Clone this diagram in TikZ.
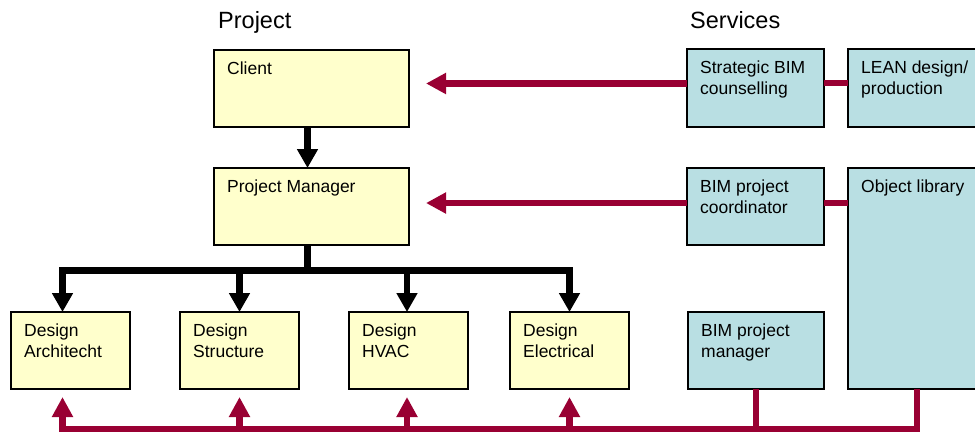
\documentclass[tikz,border=0pt]{standalone}
\usepackage{fontspec}
\setmainfont{Liberation Sans}
\usetikzlibrary{arrows.meta}
\definecolor{boxyellow}{RGB}{255,255,204}
\definecolor{boxblue}{RGB}{185,223,227}
\definecolor{linered}{RGB}{153,0,51}
\begin{document}
\begin{tikzpicture}[x=1pt,y=-1pt,
 box/.style={draw=black, line width=2pt, inner sep=0pt, outer sep=0pt, anchor=north west},
 ybox/.style={box, fill=boxyellow},
 bbox/.style={box, fill=boxblue},
 btxt/.style={anchor=north west, inner sep=0pt, align=left, font=\fontsize{17.5}{21}\selectfont},
 ttl/.style={anchor=base west, inner sep=0pt, font=\fontsize{23.5}{28}\selectfont},
 blk/.style={line width=6.5pt, draw=black},
 blkarrow/.style={blk, -{Triangle[length=19pt,width=20pt]}},
 redln/.style={line width=6.5pt, draw=linered},
 redarrow/.style={redln, -{Triangle[length=20pt,width=20pt]}}
]
\useasboundingbox (0,0) rectangle (975,432);
\clip (0,0) rectangle (975,432);

% titles
\node[ttl] (tproj) at (218,28) {Project};
\node[ttl] (tserv) at (690,28) {Services};

% project boxes
\node[ybox, minimum width=195pt, minimum height=77pt] (client) at (214,50) {};
\node[ybox, minimum width=195pt, minimum height=77pt] (pm) at (214,168) {};
\node[ybox, minimum width=119pt, minimum height=77pt] (arch) at (11,312) {};
\node[ybox, minimum width=119pt, minimum height=77pt] (struct) at (180,312) {};
\node[ybox, minimum width=119pt, minimum height=77pt] (hvac) at (349,312) {};
\node[ybox, minimum width=119pt, minimum height=77pt] (elec) at (510,312) {};

% service boxes
\node[bbox, minimum width=137pt, minimum height=78pt] (sbim) at (687,49) {};
\node[bbox, minimum width=138pt, minimum height=78pt] (lean) at (848,49) {};
\node[bbox, minimum width=137pt, minimum height=77pt] (coord) at (687,168) {};
\node[bbox, minimum width=138pt, minimum height=221pt] (objlib) at (848,168) {};
\node[bbox, minimum width=136pt, minimum height=77pt] (bimpm) at (688,312) {};

% texts
\node[btxt] at ([shift={(13pt,-12pt)}]client.north west) {Client};
\node[btxt] at ([shift={(13pt,-12pt)}]pm.north west) {Project Manager};
\node[btxt] at ([shift={(13pt,-12pt)}]arch.north west) {Design\\Architecht};
\node[btxt] at ([shift={(13pt,-12pt)}]struct.north west) {Design\\Structure};
\node[btxt] at ([shift={(13pt,-12pt)}]hvac.north west) {Design\\HVAC};
\node[btxt] at ([shift={(13pt,-12pt)}]elec.north west) {Design\\Electrical};
\node[btxt] at ([shift={(13pt,-12pt)}]sbim.north west) {Strategic BIM\\counselling};
\node[btxt] at ([shift={(13pt,-12pt)}]lean.north west) {LEAN design/\\production};
\node[btxt] at ([shift={(13pt,-12pt)}]coord.north west) {BIM project\\coordinator};
\node[btxt] at ([shift={(13pt,-12pt)}]objlib.north west) {Object library};
\node[btxt] at ([shift={(13pt,-12pt)}]bimpm.north west) {BIM project\\manager};

% black hierarchy
\coordinate (jn) at (307.5,270.5);
\draw[blkarrow] ([xshift=-4pt]client.south) -- ([xshift=-4pt]pm.north);
\draw[blkarrow] ([xshift=-4pt]pm.south) -- (jn) -| ([xshift=-8pt]arch.north);
\draw[blkarrow] (jn) -| (elec.north);
\draw[blkarrow] (struct.north |- jn) -- (struct.north);
\draw[blkarrow] ([xshift=-1.5pt]hvac.north |- jn) -- ([xshift=-1.5pt]hvac.north);

% red service links
\draw[redarrow, shorten >=17pt] ([yshift=4.5pt]sbim.west) -- ([yshift=4.5pt]sbim.west -| client.east);
\draw[redln] ([yshift=5pt]sbim.east) -- ([yshift=5pt]sbim.east -| lean.west);
\draw[redarrow, shorten >=17pt] ([yshift=3.5pt]coord.west) -- ([yshift=3.5pt]coord.west -| pm.east);
\draw[redln] ([yshift=3.5pt]coord.east) -- ([yshift=3.5pt]coord.east -| objlib.west);

% bottom red bus
\coordinate (bl) at (62.5,429);
\draw[redarrow, shorten >=8pt] (objlib.south) |- (bl) -- ([xshift=-8pt]arch.south);
\draw[redln] (bimpm.south) -- (bimpm.south |- bl);
\draw[redarrow, shorten >=8pt] (struct.south |- bl) -- (struct.south);
\draw[redarrow, shorten >=8pt] ([xshift=-1.5pt]hvac.south |- bl) -- ([xshift=-1.5pt]hvac.south);
\draw[redarrow, shorten >=8pt] (elec.south |- bl) -- (elec.south);
\end{tikzpicture}
\end{document}
